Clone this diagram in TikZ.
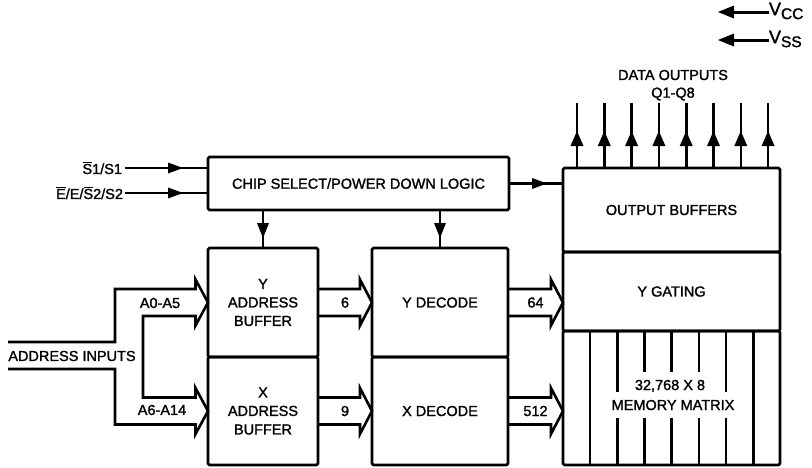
\documentclass[tikz,border=0pt]{standalone}
\usepackage{fontspec}
\setmainfont{Liberation Sans}[FakeBold=1.5]
\usetikzlibrary{calc}
\newcommand{\obar}[1]{\mbox{$\overline{\mbox{#1}}$}}
\begin{document}
\begin{tikzpicture}[x=1pt,y=-1pt,
  every node/.style={font=\fontsize{14.5}{18.5}\selectfont, inner sep=0pt, outer sep=0pt},
  blk/.style={draw, line width=2.8pt, rounded corners=1.5pt, align=center},
  wire/.style={line width=2.6pt},
  uphead/.pic={\fill (0,0) -- (-6.5,15) -- (6.5,15) -- cycle;},
  downhead/.pic={\fill (0,0) -- (-6,-15) -- (6,-15) -- cycle;},
  rightarrowhead/.pic={\fill (0,0) -- (-15,-5.5) -- (-15,5.5) -- cycle;},
  leftarrowhead/.pic={\fill (0,0) -- (16,-6.5) -- (16,6.5) -- cycle;},
  bus/.style={line width=2.6pt, line join=miter, to path={
     ($(\tikztostart)+(0,-13.5)$) -- ($(\tikztotarget)+(-12,-13.5)$) -- ++(0,-9.5)
     -- (\tikztotarget) -- ($(\tikztotarget)+(-12,23)$) -- ++(0,-9.5)
     -- ($(\tikztostart)+(0,13.5)$) \tikztonodes}}]
\useasboundingbox (0,0) rectangle (812,467);

% blocks
\node[blk, minimum width=301pt, minimum height=53pt] (cs) at (358.5,183.5) {CHIP SELECT/POWER DOWN LOGIC};
\node[blk, minimum width=110pt, minimum height=109pt] (yab) at (263,302.5) {Y\\ADDRESS\\BUFFER};
\node[blk, minimum width=110pt, minimum height=108pt] (xab) at (263,411) {X\\ADDRESS\\BUFFER};
\node[blk, minimum width=136pt, minimum height=109pt] (ydec) at (440,302.5) {Y DECODE};
\node[blk, minimum width=136pt, minimum height=108pt] (xdec) at (440,411) {X DECODE};
\node[blk, minimum width=217pt, minimum height=84pt] (ob) at (671.5,210) {OUTPUT BUFFERS};
\node[blk, minimum width=217pt, minimum height=79pt] (yg) at (671.5,291.5) {Y GATING};
\node[blk, minimum width=217pt, minimum height=134pt] (mm) at (671.5,398) {};

% memory matrix columns
\foreach \i in {0,...,6} {
  \coordinate (mc\i) at ($(mm.north west)+(27+27.2*\i,0)$);
  \draw[wire] (mc\i) -- (mc\i |- mm.south);
}
\node[fill=white, inner xsep=3pt, inner ysep=8pt, text height=10pt, text depth=0pt] (mmt2) at (673,405) {MEMORY MATRIX};
\node[fill=white, inner xsep=3pt, inner ysep=8pt, text height=10pt, text depth=0pt] (mmt1) at (670,385) {32,768 X 8};

% data outputs
\foreach \i in {0,...,7} {
  \coordinate (q\i) at ($(ob.north west)+(14+27.3*\i,-65)$);
  \coordinate (qh\i) at ($(ob.north west)+(14+27.3*\i,-37)$);
  \coordinate (qb\i) at ($(ob.north west)+(14+27.3*\i,0)$);
  \draw[wire] (qb\i) -- (qh\i) -- (q\i);
  \pic at (qh\i) {uphead};
}
\node (dout) at (673,75) {DATA OUTPUTS};
\node (q18) at (673,94) {Q1-Q8};

% chip select inputs
\node[anchor=east, inner xsep=3pt] (s1) at (125,168) {\obar{S}1/S1};
\node[anchor=east, inner xsep=2pt] (s2) at (125,193) {\obar{E}/E/\obar{S}2/S2};
\coordinate (s1e) at (s1.east -| cs.west);
\coordinate (s2e) at (s2.east -| cs.west);
\draw[wire] (s1.east) -- (s1e);
\pic at ($(s1e)+(-25,0)$) {rightarrowhead};
\draw[wire] (s2.east) -- (s2e);
\pic at ($(s2e)+(-25,0)$) {rightarrowhead};

% chip select outputs
\coordinate (cso) at (cs.east -| ob.west);
\draw[wire] (cs.east) -- (cso);
\pic at ($(cso)+(-16,0)$) {rightarrowhead};
\coordinate (csy) at (cs.south -| yab.north);
\coordinate (csd) at (cs.south -| ydec.north);
\draw[wire] (csy) -- (yab.north);
\pic at ($(yab.north)+(0,-10)$) {downhead};
\draw[wire] (csd) -- (ydec.north);
\pic at ($(ydec.north)+(0,-10)$) {downhead};

% internal buses
\draw[bus] (yab.east) to (ydec.west);
\draw[bus] (xab.east) to (xdec.west);
\coordinate (t64) at (ydec.east -| yg.west);
\coordinate (t512) at (xdec.east -| mm.west);
\draw[bus] (ydec.east) to (t64);
\draw[bus] (xdec.east) to (t512);
\node (n6) at ($(yab.east)!0.5!(ydec.west)$) {6};
\node (n9) at ($(xab.east)!0.5!(xdec.west)$) {9};
\node (n64) at ($(ydec.east)!0.5!(t64)$) {64};
\node (n512) at ($(xdec.east)!0.5!(t512)$) {512};

% address inputs
\coordinate (ai1) at (8,342);
\coordinate (ai2) at (8,369);
\draw[wire, line join=miter] (ai1) -- (115,342) -- (115,289)
  -- ($(yab.west)+(-12.5,-13.5)$) -- ++(0,-9.5) -- (yab.west)
  -- ($(yab.west)+(-12.5,23)$) -- ++(0,-9.5) -- (143,316)
  -- (143,397.5) -- ($(xab.west)+(-12.5,-13.5)$) -- ++(0,-9.5) -- (xab.west)
  -- ($(xab.west)+(-12.5,23)$) -- ++(0,-9.5) -- (115,424.5) -- (115,369) -- (ai2);
\node (ain) at (72,356) {ADDRESS INPUTS};
\node (a05) at (160,303) {A0-A5};
\node (a614) at (162,410) {A6-A14};

% supplies
\node[anchor=west, font=\fontsize{18}{18}\selectfont] (vcc) at (769,11) {V\raisebox{-4pt}{\fontsize{15.5}{15.5}\selectfont CC}};
\node[anchor=west, font=\fontsize{18}{18}\selectfont] (vss) at (769,39) {V\raisebox{-4pt}{\fontsize{15.5}{15.5}\selectfont SS}};
\coordinate (vcce) at (718,12);
\coordinate (vsse) at (718,40);
\draw[wire, line width=3pt] (vcce -| vcc.west) -- ($(vcce)+(8,0)$);
\pic at (vcce) {leftarrowhead};
\draw[wire, line width=3pt] (vsse -| vss.west) -- ($(vsse)+(8,0)$);
\pic at (vsse) {leftarrowhead};
\end{tikzpicture}
\end{document}
